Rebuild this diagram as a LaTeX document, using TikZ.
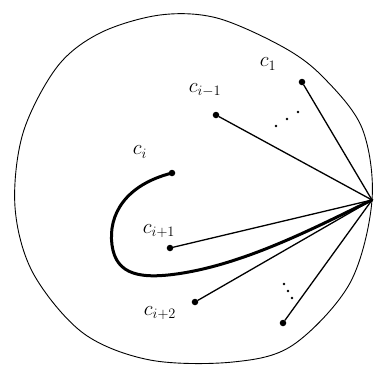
\documentclass[tikz,border=0pt]{standalone}
\usepackage{amsmath}
\usepackage{amssymb}

\begin{document}
\begin{tikzpicture}[x=1pt,y=-1pt,line cap=round,line join=round]
\useasboundingbox (0,0) rectangle (376,368);
% outer region
\draw[line width=0.9pt] plot[smooth cycle,tension=0.55] coordinates {
  (100,33) (160,15) (217,18) (283,47) (323,77) (362,128) (372,200)
  (350,283) (293,345) (233,362) (150,360) (83,333) (33,273) (15,207)
  (23,133) (57,67)};
\coordinate (hub) at (372,200);
 \begin{scope}[every node/.style={circle, fill, inner sep=2.3pt}]
  \node (c1) at (302,82) {};
  \node (cim1) at (216,115) {};
  \node (ci) at (172,173) {};
  \node (cip1) at (170,248) {};
  \node (cip2) at (195,302) {};
  \node (clast) at (283,323) {};
 \end{scope}
 \begin{scope}[every node/.style={font=\huge}]
  \node (lc1) at (268,64) {$c_1$};
  \node (lcim1) at (205,90) {$c_{i-1}$};
  \node (lci) at (140,152) {$c_i$};
  \node (lcip1) at (159,231) {$c_{i+1}$};
  \node (lcip2) at (160,313) {$c_{i+2}$};
 \end{scope}
 % the two rows of dots
 \foreach \x/\y in {276/126,287/119,298/112,284/284,288/291,292/298}
  \fill (\x,\y) circle (1.3pt);
  \path [-,line width=1.3pt] (c1) edge (hub);
  \path [-,line width=1.3pt] (cim1) edge (hub);
  \path [-,line width=1.3pt] (cip1) edge (hub);
  \path [-,line width=1.3pt] (cip2) edge (hub);
  \path [-,line width=1.3pt] (clast) edge (hub);
  \draw[line width=3pt] (ci.center) .. controls (125,185) and (108,215) .. (112,245)
     .. controls (116,275) and (140,280) .. (183,273)
     .. controls (250,262) and (320,225) .. (hub);
\end{tikzpicture}
\end{document}
